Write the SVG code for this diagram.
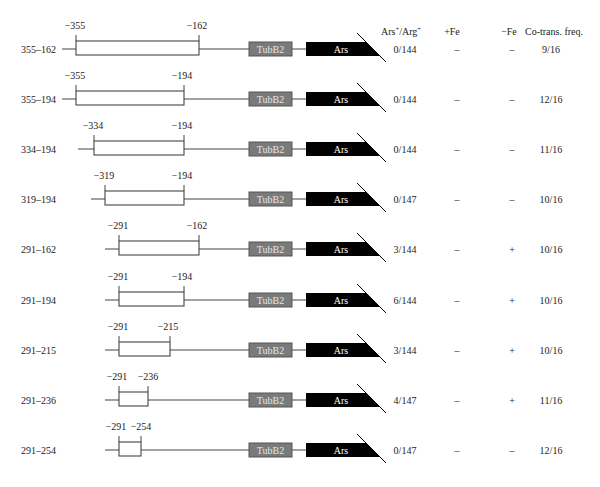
<svg xmlns="http://www.w3.org/2000/svg" width="600" height="487" viewBox="0 0 600 487">
<style>
text{font-family:"Liberation Serif","DejaVu Serif",serif;font-size:10px;fill:#222}
.m{text-anchor:middle}
.bb{stroke:#444;stroke-width:1;fill:none}
.box{fill:#fff;stroke:#444;stroke-width:1.1}
.tub{fill:#7a7a7a;stroke:#555;stroke-width:1}
.tubt{fill:#e6e6e6;text-anchor:middle}
.ars{fill:#000}
.arst{fill:#fff;text-anchor:middle}
.diag{stroke:#000;stroke-width:1}
</style>
<g id="header">
<text x="381" y="35">Ars<tspan dy="-4" font-size="6.5">+</tspan><tspan dy="4">/Arg</tspan><tspan dy="-4" font-size="6.5">+</tspan></text>
<text class="m" x="452" y="35">+Fe</text>
<text class="m" x="509" y="35">−Fe</text>
<text class="m" x="554" y="35">Co-trans. freq.</text>
</g>
<g id="connectors">
<path class="bb" d="M62 49H76M199 49H249M292 49H306"/>
<path class="bb" d="M62 99H76M184 99H249M292 99H306"/>
<path class="bb" d="M78 149H94M184 149H249M292 149H306"/>
<path class="bb" d="M91 199H105M184 199H249M292 199H306"/>
<path class="bb" d="M105 249H119M199 249H249M292 249H306"/>
<path class="bb" d="M105 300H119M184 300H249M292 300H306"/>
<path class="bb" d="M105 350H119M170 350H249M292 350H306"/>
<path class="bb" d="M105 400H119M148 400H249M292 400H306"/>
<path class="bb" d="M105 450H119M141 450H249M292 450H306"/>
</g>
<g id="row1">
<text x="21" y="53">355–162</text>
<rect class="box" x="76" y="41" width="123" height="14"/>
<path class="bb" d="M76 35V41M199 35V41"/>
<text class="m" x="75" y="29">−355</text><text class="m" x="197" y="29">−162</text>
<rect class="tub" x="249" y="42" width="43" height="14"/><text class="tubt" x="270.5" y="53">TubB2</text>
<polygon class="ars" points="306,42 366,42 380,56 306,56"/><text class="arst" x="341" y="53">Ars</text>
<line class="diag" x1="357" y1="33" x2="386" y2="62"/>
<text class="m" x="405" y="53">0/144</text><text class="m" x="457" y="53">–</text><text class="m" x="512" y="53">–</text><text class="m" x="551" y="53">9/16</text>
</g>
<g id="row2">
<text x="21" y="103">355–194</text>
<rect class="box" x="76" y="91" width="108" height="14"/>
<path class="bb" d="M76 85V91M184 85V91"/>
<text class="m" x="75" y="79">−355</text><text class="m" x="182" y="79">−194</text>
<rect class="tub" x="249" y="92" width="43" height="14"/><text class="tubt" x="270.5" y="103">TubB2</text>
<polygon class="ars" points="306,92 366,92 380,106 306,106"/><text class="arst" x="341" y="103">Ars</text>
<line class="diag" x1="357" y1="83" x2="386" y2="112"/>
<text class="m" x="405" y="103">0/144</text><text class="m" x="457" y="103">–</text><text class="m" x="512" y="103">–</text><text class="m" x="551" y="103">12/16</text>
</g>
<g id="row3">
<text x="21" y="153">334–194</text>
<rect class="box" x="94" y="141" width="90" height="14"/>
<path class="bb" d="M94 135V141M184 135V141"/>
<text class="m" x="93" y="129">−334</text><text class="m" x="182" y="129">−194</text>
<rect class="tub" x="249" y="142" width="43" height="14"/><text class="tubt" x="270.5" y="153">TubB2</text>
<polygon class="ars" points="306,142 366,142 380,156 306,156"/><text class="arst" x="341" y="153">Ars</text>
<line class="diag" x1="357" y1="133" x2="386" y2="162"/>
<text class="m" x="405" y="153">0/144</text><text class="m" x="457" y="153">–</text><text class="m" x="512" y="153">–</text><text class="m" x="551" y="153">11/16</text>
</g>
<g id="row4">
<text x="21" y="203">319–194</text>
<rect class="box" x="105" y="191" width="79" height="14"/>
<path class="bb" d="M105 185V191M184 185V191"/>
<text class="m" x="104" y="179">−319</text><text class="m" x="182" y="179">−194</text>
<rect class="tub" x="249" y="192" width="43" height="14"/><text class="tubt" x="270.5" y="203">TubB2</text>
<polygon class="ars" points="306,192 366,192 380,206 306,206"/><text class="arst" x="341" y="203">Ars</text>
<line class="diag" x1="357" y1="183" x2="386" y2="212"/>
<text class="m" x="405" y="203">0/147</text><text class="m" x="457" y="203">–</text><text class="m" x="512" y="203">–</text><text class="m" x="551" y="203">10/16</text>
</g>
<g id="row5">
<text x="21" y="253">291–162</text>
<rect class="box" x="119" y="241" width="80" height="14"/>
<path class="bb" d="M119 235V241M199 235V241"/>
<text class="m" x="118" y="229">−291</text><text class="m" x="197" y="229">−162</text>
<rect class="tub" x="249" y="242" width="43" height="14"/><text class="tubt" x="270.5" y="253">TubB2</text>
<polygon class="ars" points="306,242 366,242 380,256 306,256"/><text class="arst" x="341" y="253">Ars</text>
<line class="diag" x1="357" y1="233" x2="386" y2="262"/>
<text class="m" x="405" y="253">3/144</text><text class="m" x="457" y="253">–</text><text class="m" x="512" y="253">+</text><text class="m" x="551" y="253">10/16</text>
</g>
<g id="row6">
<text x="21" y="304">291–194</text>
<rect class="box" x="119" y="292" width="65" height="14"/>
<path class="bb" d="M119 286V292M184 286V292"/>
<text class="m" x="118" y="280">−291</text><text class="m" x="182" y="280">−194</text>
<rect class="tub" x="249" y="293" width="43" height="14"/><text class="tubt" x="270.5" y="304">TubB2</text>
<polygon class="ars" points="306,293 366,293 380,307 306,307"/><text class="arst" x="341" y="304">Ars</text>
<line class="diag" x1="357" y1="284" x2="386" y2="313"/>
<text class="m" x="405" y="304">6/144</text><text class="m" x="457" y="304">–</text><text class="m" x="512" y="304">+</text><text class="m" x="551" y="304">10/16</text>
</g>
<g id="row7">
<text x="21" y="354">291–215</text>
<rect class="box" x="119" y="342" width="51" height="14"/>
<path class="bb" d="M119 336V342M170 336V342"/>
<text class="m" x="118" y="330">−291</text><text class="m" x="168" y="330">−215</text>
<rect class="tub" x="249" y="343" width="43" height="14"/><text class="tubt" x="270.5" y="354">TubB2</text>
<polygon class="ars" points="306,343 366,343 380,357 306,357"/><text class="arst" x="341" y="354">Ars</text>
<line class="diag" x1="357" y1="334" x2="386" y2="363"/>
<text class="m" x="405" y="354">3/144</text><text class="m" x="457" y="354">–</text><text class="m" x="512" y="354">+</text><text class="m" x="551" y="354">10/16</text>
</g>
<g id="row8">
<text x="21" y="404">291–236</text>
<rect class="box" x="119" y="392" width="29" height="14"/>
<path class="bb" d="M119 386V392M148 386V392"/>
<text class="m" x="117" y="380">−291</text><text class="m" x="148" y="380">−236</text>
<rect class="tub" x="249" y="393" width="43" height="14"/><text class="tubt" x="270.5" y="404">TubB2</text>
<polygon class="ars" points="306,393 366,393 380,407 306,407"/><text class="arst" x="341" y="404">Ars</text>
<line class="diag" x1="357" y1="384" x2="386" y2="413"/>
<text class="m" x="405" y="404">4/147</text><text class="m" x="457" y="404">–</text><text class="m" x="512" y="404">+</text><text class="m" x="551" y="404">11/16</text>
</g>
<g id="row9">
<text x="21" y="454">291–254</text>
<rect class="box" x="119" y="442" width="22" height="14"/>
<path class="bb" d="M119 436V442M141 436V442"/>
<text class="m" x="116" y="430">−291</text><text class="m" x="141" y="430">−254</text>
<rect class="tub" x="249" y="443" width="43" height="14"/><text class="tubt" x="270.5" y="454">TubB2</text>
<polygon class="ars" points="306,443 366,443 380,457 306,457"/><text class="arst" x="341" y="454">Ars</text>
<line class="diag" x1="357" y1="434" x2="386" y2="463"/>
<text class="m" x="405" y="454">0/147</text><text class="m" x="457" y="454">–</text><text class="m" x="512" y="454">–</text><text class="m" x="551" y="454">12/16</text>
</g>
</svg>
